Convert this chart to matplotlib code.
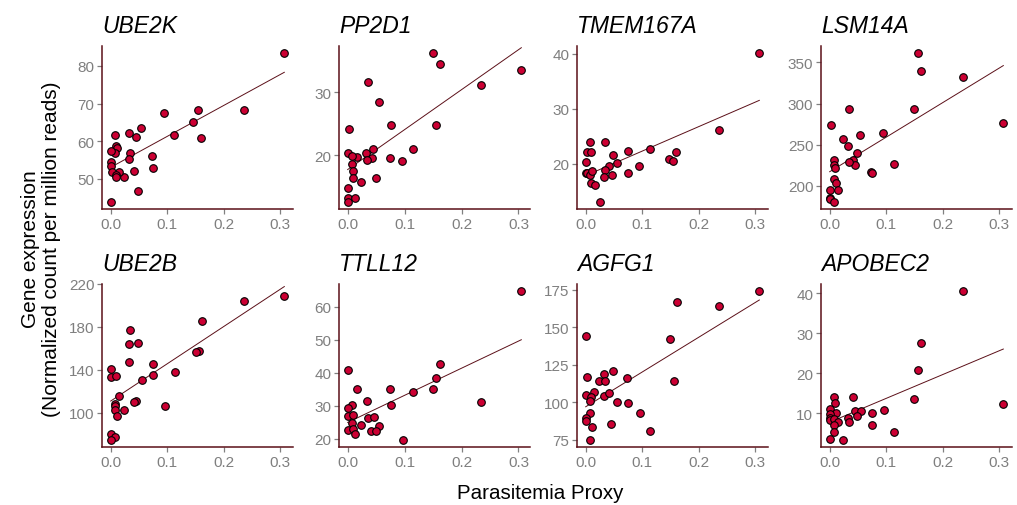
import matplotlib.pyplot as plt
import numpy as np

plt.rcParams["font.family"] = ["Liberation Sans", "DejaVu Sans"]

genes = ["UBE2K", "PP2D1", "TMEM167A", "LSM14A",
         "UBE2B", "TTLL12", "AGFG1", "APOBEC2"]

ube2k_x = [0.307, 0.235, 0.154, 0.146, 0.159, 0.112, 0.094, 0.073, 0.074, 0.054,
           0.045, 0.033, 0.035, 0.033, 0.041, 0.049, 0.024, 0.015, 0.007, 0.009,
           0.012, 0.007, 0.0, 0.0, 0.0, 0.002, 0.009, 0.010, 0.0]
ube2k_y = [83.3, 68.2, 68.4, 65.0, 60.8, 61.6, 67.5, 56.1, 52.8, 63.6,
           61.2, 62.3, 56.9, 55.4, 52.0, 46.7, 50.4, 51.8, 61.6, 58.8,
           58.3, 56.8, 57.3, 54.6, 53.5, 51.9, 51.1, 50.4, 44.0]

pp2d1_x = [0.149, 0.162, 0.305, 0.235, 0.035, 0.055, 0.076, 0.156, 0.003, 0.114,
           0.045, 0.001, 0.033, 0.042, 0.034, 0.074, 0.096, 0.016, 0.008, 0.008,
           0.009, 0.010, 0.049, 0.024, 0.0, 0.0, 0.012, 0.0]
pp2d1_y = [36.2, 34.5, 33.5, 31.2, 31.7, 28.5, 24.8, 24.8, 24.2, 20.9,
           20.9, 20.4, 20.3, 19.5, 19.3, 19.5, 19.1, 19.7, 19.8, 18.6,
           17.5, 16.4, 16.3, 15.7, 14.8, 13.2, 13.2, 12.6]

tmem167a_x = [0.307, 0.236, 0.113, 0.074, 0.160, 0.147, 0.155, 0.095, 0.075, 0.049,
              0.055, 0.042, 0.035, 0.033, 0.046, 0.035, 0.008, 0.002, 0.009, 0.001,
              0.0, 0.002, 0.007, 0.012, 0.010, 0.017, 0.025]
tmem167a_y = [40.1, 26.1, 22.7, 22.4, 22.1, 20.8, 20.5, 19.5, 18.4, 21.5,
              20.2, 19.5, 18.8, 17.6, 18.0, 23.9, 23.9, 22.1, 22.1, 20.4,
              18.3, 18.4, 18.0, 18.6, 16.5, 16.2, 13.1]

lsm14a_x = [0.156, 0.162, 0.236, 0.307, 0.149, 0.034, 0.002, 0.095, 0.054, 0.023,
            0.033, 0.049, 0.041, 0.045, 0.034, 0.113, 0.073, 0.075, 0.007, 0.008,
            0.010, 0.007, 0.012, 0.015, 0.0, 0.0, 0.0, 0.008]
lsm14a_y = [361, 340, 332, 276, 293, 294, 274, 264, 262, 257,
            248, 240, 232, 226, 229, 227, 217, 216, 231, 226,
            222, 208, 203, 195, 195, 185, 184, 181]

ube2b_x = [0.307, 0.236, 0.162, 0.157, 0.150, 0.114, 0.096, 0.075, 0.074, 0.055,
           0.035, 0.032, 0.049, 0.033, 0.045, 0.041, 0.0, 0.001, 0.010, 0.015,
           0.007, 0.008, 0.007, 0.024, 0.012, 0.0, 0.008, 0.0]
ube2b_y = [209, 204, 186, 158, 157, 138, 106, 146, 135, 131,
           177, 164, 165, 147, 111, 110, 141, 133, 134, 116,
           108, 106, 103, 103, 97, 80, 78, 75]

ttll12_x = [0.305, 0.162, 0.156, 0.149, 0.235, 0.114, 0.074, 0.076, 0.097, 0.034,
            0.035, 0.046, 0.055, 0.041, 0.049, 0.024, 0.016, 0.001, 0.008, 0.001,
            0.0, 0.010, 0.008, 0.0, 0.009, 0.012]
ttll12_y = [64.6, 42.5, 38.4, 35.1, 31.2, 34.2, 35.0, 30.1, 19.7, 31.3,
            26.2, 26.6, 23.9, 22.2, 22.4, 24.1, 35.1, 40.8, 30.1, 29.4,
            26.9, 27.0, 24.7, 22.7, 22.8, 21.5]

agfg1_x = [0.307, 0.162, 0.236, 0.149, 0.157, 0.001, 0.002, 0.048, 0.032, 0.023,
           0.034, 0.073, 0.015, 0.0, 0.010, 0.033, 0.042, 0.007, 0.055, 0.075,
           0.096, 0.008, 0.001, 0.0, 0.011, 0.045, 0.114, 0.008]
agfg1_y = [173.9, 166.8, 164.0, 141.9, 114.3, 144.0, 117.0, 120.7, 118.7, 114.5,
           114.3, 116.3, 107.0, 104.6, 103.5, 104.2, 105.9, 100.9, 100.2, 99.8,
           93.1, 93.1, 89.8, 87.6, 83.9, 85.6, 80.7, 75.2]

apobec2_x = [0.236, 0.162, 0.156, 0.307, 0.149, 0.096, 0.075, 0.074, 0.114, 0.041,
             0.045, 0.055, 0.049, 0.033, 0.034, 0.008, 0.010, 0.001, 0.011, 0.0,
             0.0, 0.0, 0.008, 0.015, 0.007, 0.007, 0.0, 0.024]
apobec2_y = [40.5, 27.6, 20.9, 12.2, 13.6, 10.9, 10.0, 7.1, 5.3, 14.1,
             10.6, 10.5, 9.3, 8.9, 7.8, 14.0, 12.6, 11.1, 10.1, 9.8,
             8.7, 8.3, 8.6, 7.8, 7.1, 5.4, 3.5, 3.4]

xs = [ube2k_x, pp2d1_x, tmem167a_x, lsm14a_x, ube2b_x, ttll12_x, agfg1_x, apobec2_x]
ys = [ube2k_y, pp2d1_y, tmem167a_y, lsm14a_y, ube2b_y, ttll12_y, agfg1_y, apobec2_y]

y_ticks = [[50, 60, 70, 80], [20, 30], [20, 30, 40], [200, 250, 300, 350],
           [100, 140, 180, 220], [20, 30, 40, 50, 60], [75, 100, 125, 150, 175],
           [10, 20, 30, 40]]
x_ticks = [0.0, 0.1, 0.2, 0.3]

axis_col = "#5b0f18"
tick_col = "#808080"
point_col = "#cc0033"
line_col = "#5b0f18"

W, H = 1017, 506
fig = plt.figure(figsize=(W / 100, H / 100), dpi=100)

col_left = [102, 339, 577, 821]
row_top = [47, 285]
pw, ph = 191, 163


def expand(v):
    # ggplot-style 5% padding
    lo, hi = min(v), max(v)
    d = (hi - lo) * 0.05
    return lo - d, hi + d


for i, gene in enumerate(genes):
    r, c = divmod(i, 4)
    ax = fig.add_axes([col_left[c] / W, 1 - (row_top[r] + ph) / H, pw / W, ph / H])
    x = np.array(xs[i])
    y = np.array(ys[i])
    ax.scatter(x, y, s=30, color=point_col, edgecolor="black", linewidth=0.8, zorder=3)
    k, b = np.polyfit(x, y, 1)
    lx = np.array([x.min(), x.max()])
    ax.plot(lx, k * lx + b, color=line_col, linewidth=0.7, zorder=2)
    ax.set_xlim(*expand(x))
    ax.set_ylim(*expand(y))
    ax.set_xticks(x_ticks)
    ax.set_xticklabels(["0.0", "0.1", "0.2", "0.3"])
    ax.set_yticks(y_ticks[i])
    for s in ["top", "right"]:
        ax.spines[s].set_visible(False)
    for s in ["left", "bottom"]:
        ax.spines[s].set_color(axis_col)
        ax.spines[s].set_linewidth(1.1)
    ax.tick_params(colors=tick_col, labelcolor="#7f7f7f", labelsize=11,
                   length=3.5, width=0.9, pad=2)
    ax.set_title(gene, fontstyle="italic", fontsize=16.5, loc="left", pad=10)

fig.text(540 / W, 1 - 494 / H, "Parasitemia Proxy", ha="center", va="center", fontsize=14.8)
fig.text(41 / W, 1 - 249 / H, "Gene expression\n(Normalized count per million reads)",
         rotation=90, ha="center", va="center", fontsize=15, multialignment="center",
         linespacing=1.1)

fig.savefig("out.png", dpi=100)
